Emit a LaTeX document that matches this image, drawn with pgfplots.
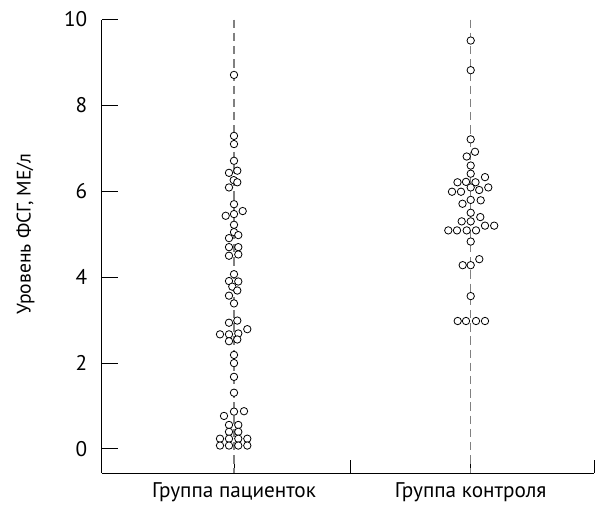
\documentclass[border=0pt]{standalone}
\usepackage{fontspec}
\setmainfont{PT Sans}
\usepackage{pgfplots}
\pgfplotsset{compat=1.18}
\begin{document}
\fontsize{9.5}{11}\selectfont
\begin{tikzpicture}
\path[use as bounding box] (-51pt,-21.5pt) rectangle (249pt,236.5pt);
\begin{axis}[
  scale only axis, width=246pt, height=226.75pt,
  xmin=0, xmax=492, ymin=-0.559, ymax=10,
  clip=false,
  axis x line*=bottom, axis y line*=left,
  axis line style={line width=0.5pt, black},
  tick align=inside,
  /pgf/number format/assume math mode=true,
  ytick={0,2,4,6,8,10},
  yticklabel style={xshift=-4.0pt, font=\fontsize{10.6}{12}\selectfont},
  ytick style={line width=0.5pt, black, /pgfplots/major tick length=7.8pt},
  xtick={248.7,492}, xticklabels={,},
  xtick style={line width=0.5pt, black, /pgfplots/major tick length=6.5pt},
  extra x ticks={132,368.7},
  extra x tick labels={Группа пациенток, Группа контроля},
  extra x tick style={/pgfplots/major tick length=0pt, tick label style={yshift=-1.6pt, font=\fontsize{10.6}{12}\selectfont}},
  every axis y label/.style={at={(axis description cs:-0.1555,0.527)}, rotate=90, anchor=center, font=\fontsize{9.8}{11}\selectfont},
  ylabel={Уровень ФСГ, МЕ/л},
]
% dashed group lines
\addplot[black!50, line width=0.7pt, dash pattern=on 4.2pt off 2.4pt] coordinates {(132,10) (132,-0.559)};
\addplot[black!50, line width=0.7pt, dash pattern=on 4.2pt off 2.4pt] coordinates {(368.7,10) (368.7,-0.559)};
% patients
\addplot[only marks, mark=*, mark size=1.85pt, mark options={fill=white, draw=black, line width=0.4pt}] coordinates {
(132,8.71) (132,7.29) (132,7.10) (132,6.71)
(127,6.43) (135.3,6.48) (131.7,6.26) (135.3,6.21) (127,6.09)
(132,5.70) (123.7,5.43) (132,5.47) (140.7,5.54) (132,5.22)
(132,5.05) (127,4.91) (136.3,4.98) (127,4.70) (136.3,4.70) (127,4.50) (136.3,4.53)
(132,4.07) (127,3.91) (136.3,3.90) (130.3,3.78) (135.3,3.69) (127,3.57) (132,3.39)
(127,2.94) (135.3,2.99) (118,2.67) (127,2.67) (136.3,2.69) (145.3,2.79) (127,2.51) (135.3,2.55)
(132,2.19) (132,2.00) (132,1.68) (132,1.31)
(122,0.77) (132,0.87) (142,0.88)
(127,0.56) (136.3,0.56) (127,0.40) (136.3,0.40)
(118,0.24) (127,0.24) (136.3,0.24) (145.3,0.24)
(118,0.08) (127,0.08) (136.3,0.08) (145.3,0.08)
};
% controls
\addplot[only marks, mark=*, mark size=1.85pt, mark options={fill=white, draw=black, line width=0.4pt}] coordinates {
(368.7,9.51) (368.7,8.82) (368.7,7.21) (373,6.92) (364.7,6.81) (368.7,6.60) (368.7,6.41)
(355.5,6.21) (364,6.22) (373.5,6.21) (383,6.33)
(368.7,6.09) (377.2,6.03) (386.3,6.09) (350,5.99) (359,5.99)
(360.5,5.71) (368.7,5.80) (378.7,5.79)
(368.7,5.50) (378.3,5.40) (359.7,5.30) (368.7,5.30) (383,5.20) (392.2,5.20)
(346.3,5.09) (355,5.09) (364.7,5.09) (374,5.09)
(368.7,4.83) (360.7,4.28) (368.7,4.28) (377.3,4.42)
(368.7,3.56)
(355.7,2.98) (364,2.98) (374,2.98) (383,2.98)
};
\end{axis}
\end{tikzpicture}
\end{document}
